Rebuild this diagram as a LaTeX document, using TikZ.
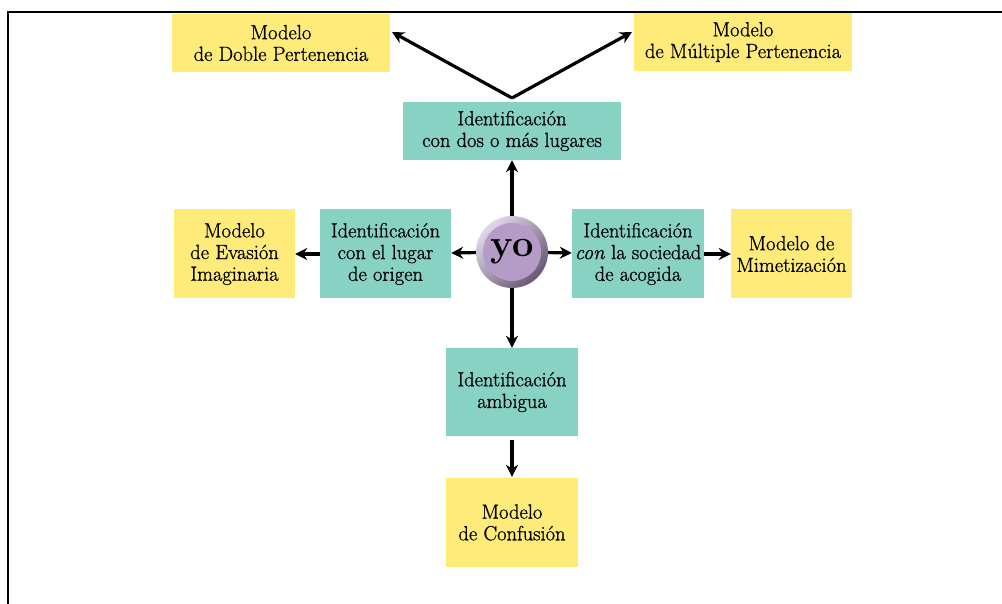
\documentclass[tikz,border=0pt]{standalone}
\usepackage{fontspec}
\usetikzlibrary{arrows.meta}
\newfontfamily\cajafont{Latin Modern Roman}[FakeBold=0.9]
\definecolor{amarillo}{RGB}{255,235,122}
\definecolor{verdeagua}{RGB}{136,210,196}
\definecolor{lila}{RGB}{180,156,198}
\definecolor{lilaclaro}{RGB}{226,216,234}
\definecolor{lilaoscuro}{RGB}{104,86,116}
\begin{document}
\begin{tikzpicture}[x=1pt,y=-1pt,
    caja/.style={shape=rectangle,inner sep=2pt,align=center,font=\cajafont\fontsize{20.5}{21.7}\selectfont},
    modelo/.style={caja,fill=amarillo},
    ident/.style={caja,fill=verdeagua},
    flecha/.style={line width=3.2pt,-{Stealth[length=12pt,width=12pt]}},]
        \useasboundingbox (0,0) rectangle (1002,604);
        % marco
        \coordinate (m0) at (8,604);
        \coordinate (m1) at (8,12);
        \coordinate (m2) at (1002,12);
        \draw[line width=2pt] (m0) -- (m1) -- (m2);
        % centro
        \node[circle,minimum size=72pt,inner sep=0pt,top color=lilaclaro,bottom color=lilaoscuro,shading angle=45,
          path picture={\fill[lila] (path picture bounding box.center) circle (29pt);},
          font=\fontsize{38}{38}\selectfont\bfseries] (yo) at (512,252) {yo};
        % identificaciones
        \node[ident,minimum width=218pt,minimum height=58pt] (idDos) at (512,131) {Identificación\\con dos o más lugares};
        \node[ident,minimum width=131pt,minimum height=89pt] (idOrigen) at (385.5,254) {Identificación\\con el lugar\\de origen};
        \node[ident,minimum width=132pt,minimum height=89pt] (idAcogida) at (638,254) {Identificación\\\textit{con} la sociedad\\de acogida};
        \node[ident,minimum width=132pt,minimum height=88pt] (idAmbigua) at (512,392) {Identificación\\ambigua};
        % modelos
        \node[modelo,minimum width=218pt,minimum height=58pt] (modDoble) at (281,43) {Modelo\\de Doble Pertenencia};
        \node[modelo,minimum width=218pt,minimum height=58pt] (modMultiple) at (743,42) {Modelo\\de Múltiple Pertenencia};
        \node[modelo,minimum width=121pt,minimum height=89pt] (modEvasion) at (234.5,254) {Modelo\\de Evasión\\Imaginaria};
        \node[modelo,minimum width=121pt,minimum height=89pt] (modMimet) at (791.5,254) {Modelo de\\Mimetización};
        \node[modelo,minimum width=132pt,minimum height=89pt] (modConfusion) at (512,522.5) {Modelo\\de Confusión};
        % flechas
        \coordinate (vertice) at (512,98);
        \coordinate (finDoble) at (392,32);
        \coordinate (finMultiple) at (632,32);
        \draw[flecha] (vertice) -- (finDoble);
        \draw[flecha] (vertice) -- (finMultiple);
        \draw[flecha] (yo) -- (idDos);
        \draw[flecha] (yo) -- (idOrigen);
        \draw[flecha] (yo) -- (idAcogida);
        \draw[flecha] (yo) -- (idAmbigua);
        \draw[flecha] (idOrigen) -- (modEvasion);
        \draw[flecha] (idAcogida) -- (modMimet);
        \draw[flecha,shorten <=4pt,shorten >=1pt] (idAmbigua) -- (modConfusion);
\end{tikzpicture}
\end{document}
